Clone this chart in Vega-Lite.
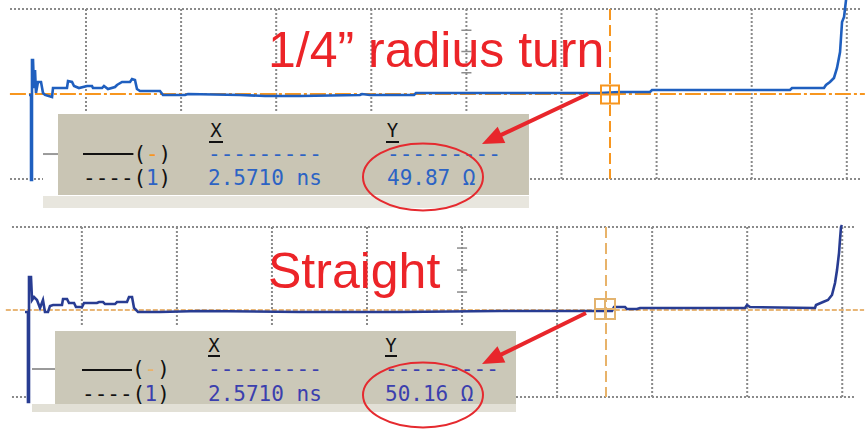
{
  "$schema": "https://vega.github.io/schema/vega-lite/v6.json",
  "background": "white",
  "padding": 0,
  "spacing": 0,
  "bounds": "flush",
  "config": {"view": {"stroke": null}},
  "datasets": {
    "ticks": [{"t":0.2},{"t":0.4},{"t":0.6},{"t":0.8},{"t":1.0},{"t":1.2},{"t":1.4},{"t":1.6},{"t":1.8},{"t":2.0},{"t":2.2},{"t":2.4},{"t":2.6},{"t":2.8},{"t":3.0},{"t":3.2},{"t":3.4},{"t":3.6},{"t":3.8},{"t":4.0},{"t":4.2},{"t":4.4},{"t":4.6},{"t":4.8},{"t":5.0},{"t":5.2},{"t":5.4},{"t":5.6},{"t":5.8},{"t":6.0},{"t":6.2},{"t":6.4},{"t":6.6},{"t":6.8},{"t":7.0},{"t":7.2},{"t":7.4},{"t":7.6},{"t":7.8},{"t":8.0},{"t":8.2},{"t":8.4},{"t":8.6},{"t":8.8},{"t":9.0}],
    "top_trace": [
      {"t":0.401,"z":49.91},{"t":0.422,"z":49.91},{"t":0.422,"z":41.91},{"t":0.432,"z":41.91},{"t":0.432,"z":53.20},{"t":0.443,"z":53.20},{"t":0.453,"z":50.56},{"t":0.464,"z":52.26},{"t":0.474,"z":50.09},{"t":0.495,"z":51.13},{"t":0.527,"z":51.13},{"t":0.548,"z":50.09},{"t":0.569,"z":49.91},{"t":0.643,"z":49.72},{"t":0.653,"z":50.56},{"t":0.800,"z":50.56},{"t":0.811,"z":51.22},{"t":0.853,"z":51.13},{"t":0.874,"z":50.75},{"t":0.926,"z":50.56},{"t":1.011,"z":50.75},{"t":1.063,"z":50.75},{"t":1.074,"z":50.56},{"t":1.168,"z":50.56},{"t":1.189,"z":50.75},{"t":1.231,"z":50.47},{"t":1.305,"z":50.66},{"t":1.326,"z":50.85},{"t":1.379,"z":51.13},{"t":1.463,"z":51.13},{"t":1.484,"z":51.41},{"t":1.515,"z":51.32},{"t":1.536,"z":50.47},{"t":1.568,"z":50.28},{"t":1.778,"z":50.28},{"t":1.810,"z":49.91},{"t":2.041,"z":49.91},{"t":2.073,"z":50.00},{"t":2.619,"z":49.91},{"t":2.882,"z":49.81},{"t":3.250,"z":49.81},{"t":3.881,"z":49.91},{"t":3.902,"z":50.00},{"t":3.986,"z":49.91},{"t":4.449,"z":49.91},{"t":4.470,"z":50.09},{"t":6.405,"z":50.09},{"t":6.615,"z":50.19},{"t":6.931,"z":50.19},{"t":6.952,"z":50.38},{"t":8.403,"z":50.38},{"t":8.424,"z":50.56},{"t":8.760,"z":50.56},{"t":8.781,"z":50.85},{"t":8.823,"z":51.13},{"t":8.865,"z":51.51},{"t":8.897,"z":52.45},{"t":8.929,"z":53.95},{"t":8.950,"z":56.78},{"t":8.971,"z":57.25},{"t":8.981,"z":58.00},{"t":8.992,"z":58.85}
    ],
    "bot_trace": [
      {"t":0.402,"z":49.81},{"t":0.433,"z":49.81},{"t":0.433,"z":41.34},{"t":0.444,"z":41.34},{"t":0.444,"z":53.11},{"t":0.465,"z":53.11},{"t":0.476,"z":50.94},{"t":0.497,"z":51.22},{"t":0.528,"z":50.94},{"t":0.560,"z":50.19},{"t":0.591,"z":50.94},{"t":0.612,"z":49.81},{"t":0.644,"z":49.81},{"t":0.665,"z":50.38},{"t":0.697,"z":50.47},{"t":0.791,"z":50.47},{"t":0.802,"z":51.04},{"t":0.844,"z":51.04},{"t":0.865,"z":50.66},{"t":0.918,"z":50.66},{"t":0.938,"z":50.28},{"t":1.002,"z":50.28},{"t":1.023,"z":50.66},{"t":1.159,"z":50.66},{"t":1.181,"z":50.75},{"t":1.223,"z":50.75},{"t":1.244,"z":50.56},{"t":1.349,"z":50.56},{"t":1.370,"z":50.75},{"t":1.475,"z":50.75},{"t":1.496,"z":51.22},{"t":1.528,"z":51.22},{"t":1.549,"z":50.19},{"t":1.591,"z":49.81},{"t":1.822,"z":49.81},{"t":2.243,"z":49.91},{"t":3.295,"z":49.81},{"t":4.347,"z":49.81},{"t":5.399,"z":49.91},{"t":6.578,"z":49.91},{"t":6.599,"z":50.28},{"t":6.715,"z":50.28},{"t":6.736,"z":50.09},{"t":6.841,"z":50.09},{"t":6.872,"z":50.19},{"t":7.977,"z":50.19},{"t":7.998,"z":50.47},{"t":8.030,"z":50.28},{"t":8.713,"z":50.19},{"t":8.724,"z":50.47},{"t":8.798,"z":50.75},{"t":8.850,"z":50.94},{"t":8.892,"z":51.41},{"t":8.924,"z":52.54},{"t":8.945,"z":53.76},{"t":8.966,"z":55.36},{"t":8.976,"z":56.59},{"t":8.987,"z":57.81},{"t":8.997,"z":58.00}
    ],
    "top_ann": [
      {"kind":"vgrid","t":1,"z":58,"z2":42},{"kind":"vgrid","t":2,"z":58,"z2":42},{"kind":"vgrid","t":3,"z":58,"z2":42},{"kind":"vgrid","t":4,"z":58,"z2":42},{"kind":"vgrid","t":5,"z":58,"z2":42},{"kind":"vgrid","t":6,"z":58,"z2":42},{"kind":"vgrid","t":7,"z":58,"z2":42},{"kind":"vgrid","t":8,"z":58,"z2":42},{"kind":"vgrid","t":9,"z":58,"z2":42},
      {"kind":"hgrid","t":0.2009,"t2":9.1388,"z":58},{"kind":"hgrid","t":0.2009,"t2":9.1388,"z":42},
      {"kind":"vtick","t":4.947,"t2":5.053,"z":56.0},{"kind":"vtick","t":4.947,"t2":5.053,"z":54.0},{"kind":"vtick","t":4.947,"t2":5.053,"z":52.0},{"kind":"vtick","t":4.947,"t2":5.053,"z":48.0},{"kind":"vtick","t":4.947,"t2":5.053,"z":46.0},{"kind":"vtick","t":4.947,"t2":5.053,"z":44.0},
      {"kind":"curh","t":0.2,"t2":9.19,"z":50},
      {"kind":"curv","t":6.51,"z":58,"z2":42},
      {"kind":"cursq","t":6.51,"z":49.95},
      {"kind":"white","t":0.5478,"t2":5.658,"z":48.40,"z2":39.27},
      {"kind":"box","t":0.7056,"t2":5.658,"z":48.12,"z2":40.49},
      {"kind":"strip","t":0.5478,"t2":5.658,"z":40.40,"z2":39.27},
      {"kind":"gline","t":0.5478,"t2":0.7056,"z":44.35},
      {"kind":"solid","t":0.9685,"t2":1.4984,"z":44.35},
      {"kind":"ul","t":2.2934,"t2":2.4406,"z":45.48},{"kind":"ul","t":4.1546,"t2":4.2913,"z":45.48},
      {"kind":"hdr","t":2.367,"z":46.52,"text":"X"},{"kind":"hdr","t":4.2229,"z":46.52,"text":"Y"},
      {"kind":"blk","t":1.4984,"z":44.259,"text":"("},{"kind":"blk","t":1.7634,"z":44.259,"text":")"},
      {"kind":"blk","t":0.9685,"z":42.0,"text":"----("},{"kind":"blk","t":1.7634,"z":42.0,"text":")"},
      {"kind":"orn","t":1.6309,"z":44.259,"text":"-"},
      {"kind":"blu","t":1.6309,"z":42.0,"text":"1"},
      {"kind":"blu","t":2.2829,"z":44.259,"text":"---------"},{"kind":"blu","t":4.1651,"z":44.259,"text":"---------"},
      {"kind":"blu","t":2.2829,"z":42.0,"text":"2.5710 ns"},{"kind":"blu","t":4.1651,"z":42.0,"text":"49.87 Ω"},
      {"kind":"title","t":2.914,"z":52.54,"text":"1/4” radius turn"},
      {"kind":"ell","t":4.5436,"z":42.19},
      {"kind":"arrow","t":6.2787,"z":50.0,"t2":5.2776,"z2":45.774},
      {"kind":"head","t":5.2776,"z":45.774}
    ],
    "bot_ann": [
      {"kind":"vgrid","t":1,"z":57.81,"z2":41.81},{"kind":"vgrid","t":2,"z":57.81,"z2":41.81},{"kind":"vgrid","t":3,"z":57.81,"z2":41.81},{"kind":"vgrid","t":4,"z":57.81,"z2":41.81},{"kind":"vgrid","t":5,"z":57.81,"z2":41.81},{"kind":"vgrid","t":6,"z":57.81,"z2":41.81},{"kind":"vgrid","t":7,"z":57.81,"z2":41.81},{"kind":"vgrid","t":8,"z":57.81,"z2":41.81},{"kind":"vgrid","t":9,"z":57.81,"z2":41.81},
      {"kind":"hgrid","t":0.265,"t2":9.134,"z":57.81},{"kind":"hgrid","t":0.265,"t2":9.134,"z":41.81},
      {"kind":"vtick","t":4.947,"t2":5.053,"z":55.83},{"kind":"vtick","t":4.947,"t2":5.053,"z":53.76},{"kind":"vtick","t":4.947,"t2":5.053,"z":51.69},{"kind":"vtick","t":4.947,"t2":5.053,"z":48.2},{"kind":"vtick","t":4.947,"t2":5.053,"z":46.1},{"kind":"vtick","t":4.947,"t2":5.053,"z":44.0},
      {"kind":"curh","t":0.2,"t2":9.23,"z":50},
      {"kind":"curv","t":6.5145,"z":57.81,"z2":41.81},
      {"kind":"cursq","t":6.504,"z":50.09},
      {"kind":"white","t":0.4755,"t2":5.5676,"z":48.40,"z2":40.31},
      {"kind":"box","t":0.7176,"t2":5.5676,"z":48.02,"z2":41.15},
      {"kind":"strip","t":0.4755,"t2":5.5676,"z":41.15,"z2":40.40},
      {"kind":"gline","t":0.4755,"t2":0.7176,"z":44.447},
      {"kind":"solid","t":1.0016,"t2":1.5276,"z":44.353},
      {"kind":"ul","t":2.3272,"t2":2.4535,"z":45.67},{"kind":"ul","t":4.1894,"t2":4.3157,"z":45.67},
      {"kind":"hdr","t":2.3903,"z":46.62,"text":"X"},{"kind":"hdr","t":4.2525,"z":46.62,"text":"Y"},
      {"kind":"blk","t":1.5276,"z":44.353,"text":"("},{"kind":"blk","t":1.7927,"z":44.353,"text":")"},
      {"kind":"blk","t":1.0016,"z":42.0,"text":"----("},{"kind":"blk","t":1.7927,"z":42.0,"text":")"},
      {"kind":"orn","t":1.6602,"z":44.353,"text":"-"},
      {"kind":"blu","t":1.6602,"z":42.0,"text":"1"},
      {"kind":"blu","t":2.3272,"z":44.353,"text":"---------"},{"kind":"blu","t":4.1894,"z":44.353,"text":"---------"},
      {"kind":"blu","t":2.3272,"z":42.0,"text":"2.5710 ns"},{"kind":"blu","t":4.1894,"z":42.0,"text":"50.16 Ω"},
      {"kind":"title","t":2.9584,"z":52.07,"text":"Straight"},
      {"kind":"ell","t":4.5892,"z":42.0},
      {"kind":"arrow","t":6.304,"z":49.72,"t2":5.3235,"z2":45.42},
      {"kind":"head","t":5.3235,"z":45.42}
    ]
  },
  "vconcat": [
    {
      "width": 865,
      "height": 214,
      "encoding": {
        "x": {"field": "t", "type": "quantitative", "scale": {"domain": [0.0957, 9.1914], "nice": false, "zero": false}, "axis": null},
        "y": {"field": "z", "type": "quantitative", "scale": {"domain": [38.706, 58.847], "nice": false, "zero": false}, "axis": null}
      },
      "layer": [
        {"data": {"name": "top_ann"}, "transform": [{"filter": "datum.kind==='vgrid'"}], "mark": {"type": "rule", "color": "#8a8a8a", "strokeWidth": 2, "strokeDash": [2, 2]}, "encoding": {"y2": {"field": "z2"}}},
        {"data": {"name": "top_ann"}, "transform": [{"filter": "datum.kind==='hgrid'"}], "mark": {"type": "rule", "color": "#8a8a8a", "strokeWidth": 2, "strokeDash": [2, 2]}, "encoding": {"x2": {"field": "t2"}}},
        {"data": {"name": "ticks"}, "mark": {"type": "rule", "color": "#8c8c8c", "strokeWidth": 1.5}, "encoding": {"y": {"datum": 50.38}, "y2": {"datum": 49.62}}},
        {"data": {"name": "top_ann"}, "transform": [{"filter": "datum.kind==='vtick'"}], "mark": {"type": "rule", "color": "#8c8c8c", "strokeWidth": 1.5}, "encoding": {"x2": {"field": "t2"}}},
        {"data": {"name": "top_ann"}, "transform": [{"filter": "datum.kind==='curh'"}], "mark": {"type": "rule", "color": "#f7961f", "strokeWidth": 2, "strokeDash": [16, 3, 3, 3]}, "encoding": {"x2": {"field": "t2"}}},
        {"data": {"name": "top_trace"}, "mark": {"type": "line", "color": "#1f5fbf", "strokeWidth": 2.6, "clip": true}, "encoding": {"order": {"value": null}}},
        {"data": {"name": "top_ann"}, "transform": [{"filter": "datum.kind==='curv'"}], "mark": {"type": "rule", "color": "#f7961f", "strokeWidth": 2, "strokeDash": [11, 5]}, "encoding": {"y2": {"field": "z2"}}},
        {"data": {"name": "top_ann"}, "transform": [{"filter": "datum.kind==='cursq'"}], "mark": {"type": "point", "shape": "M-1,-1H1V1H-1ZM0,-1V1M-1,0H1", "size": 324, "filled": false, "stroke": "#f7961f", "strokeWidth": 2, "opacity": 1}},
        {"data": {"name": "top_ann"}, "transform": [{"filter": "datum.kind==='white'"}], "mark": {"type": "rect", "color": "#ffffff"}, "encoding": {"x2": {"field": "t2"}, "y2": {"field": "z2"}}},
        {"data": {"name": "top_ann"}, "transform": [{"filter": "datum.kind==='box'"}], "mark": {"type": "rect", "color": "#c9c5b4"}, "encoding": {"x2": {"field": "t2"}, "y2": {"field": "z2"}}},
        {"data": {"name": "top_ann"}, "transform": [{"filter": "datum.kind==='strip'"}], "mark": {"type": "rect", "color": "#e8e6de"}, "encoding": {"x2": {"field": "t2"}, "y2": {"field": "z2"}}},
        {"data": {"name": "top_ann"}, "transform": [{"filter": "datum.kind==='gline'"}], "mark": {"type": "rule", "color": "#9a9a9a", "strokeWidth": 2}, "encoding": {"x2": {"field": "t2"}}},
        {"data": {"name": "top_ann"}, "transform": [{"filter": "datum.kind==='solid'"}], "mark": {"type": "rule", "color": "#111111", "strokeWidth": 2}, "encoding": {"x2": {"field": "t2"}}},
        {"data": {"name": "top_ann"}, "transform": [{"filter": "datum.kind==='ul'"}], "mark": {"type": "rule", "color": "#111111", "strokeWidth": 2}, "encoding": {"x2": {"field": "t2"}}},
        {"data": {"name": "top_ann"}, "transform": [{"filter": "datum.kind==='hdr'"}], "mark": {"type": "text", "font": "DejaVu Sans Mono", "fontSize": 19, "color": "#111111", "align": "center", "baseline": "middle"}, "encoding": {"text": {"field": "text"}}},
        {"data": {"name": "top_ann"}, "transform": [{"filter": "datum.kind==='blk'"}], "mark": {"type": "text", "font": "DejaVu Sans Mono", "fontSize": 21, "color": "#111111", "align": "left", "baseline": "middle"}, "encoding": {"text": {"field": "text"}}},
        {"data": {"name": "top_ann"}, "transform": [{"filter": "datum.kind==='orn'"}], "mark": {"type": "text", "font": "DejaVu Sans Mono", "fontSize": 21, "color": "#f7961f", "align": "left", "baseline": "middle"}, "encoding": {"text": {"field": "text"}}},
        {"data": {"name": "top_ann"}, "transform": [{"filter": "datum.kind==='blu'"}], "mark": {"type": "text", "font": "DejaVu Sans Mono", "fontSize": 21, "color": "#2c63c4", "align": "left", "baseline": "middle"}, "encoding": {"text": {"field": "text"}}},
        {"data": {"name": "top_ann"}, "transform": [{"filter": "datum.kind==='title'"}], "mark": {"type": "text", "font": "Liberation Sans", "fontSize": 50, "color": "#ec2428", "align": "left", "baseline": "alphabetic"}, "encoding": {"text": {"field": "text"}}},
        {"data": {"name": "top_ann"}, "transform": [{"filter": "datum.kind==='ell'"}], "mark": {"type": "point", "shape": "M-1,0A1,0.56,0,1,1,1,0A1,0.56,0,1,1,-1,0Z", "size": 14400, "filled": false, "stroke": "#e52a2f", "strokeWidth": 2, "opacity": 1}},
        {"data": {"name": "top_ann"}, "transform": [{"filter": "datum.kind==='arrow'"}], "mark": {"type": "rule", "color": "#e8262b", "strokeWidth": 4}, "encoding": {"x2": {"field": "t2"}, "y2": {"field": "z2"}}},
        {"data": {"name": "top_ann"}, "transform": [{"filter": "datum.kind==='head'"}], "mark": {"type": "point", "shape": "M0,-1L0.75,0.8L-0.75,0.8Z", "size": 576, "filled": true, "color": "#e8262b", "opacity": 1, "angle": 244.7}}
      ]
    },
    {
      "width": 865,
      "height": 215,
      "encoding": {
        "x": {"field": "t", "type": "quantitative", "scale": {"domain": [0.1389, 9.2394], "nice": false, "zero": false}, "axis": null},
        "y": {"field": "z", "type": "quantitative", "scale": {"domain": [38.8, 59.035], "nice": false, "zero": false}, "axis": null}
      },
      "layer": [
        {"data": {"name": "bot_ann"}, "transform": [{"filter": "datum.kind==='vgrid'"}], "mark": {"type": "rule", "color": "#8a8a8a", "strokeWidth": 2, "strokeDash": [2, 2]}, "encoding": {"y2": {"field": "z2"}}},
        {"data": {"name": "bot_ann"}, "transform": [{"filter": "datum.kind==='hgrid'"}], "mark": {"type": "rule", "color": "#8a8a8a", "strokeWidth": 2, "strokeDash": [2, 2]}, "encoding": {"x2": {"field": "t2"}}},
        {"data": {"name": "ticks"}, "mark": {"type": "rule", "color": "#8c8c8c", "strokeWidth": 1.5}, "encoding": {"y": {"datum": 50.38}, "y2": {"datum": 49.62}}},
        {"data": {"name": "bot_ann"}, "transform": [{"filter": "datum.kind==='vtick'"}], "mark": {"type": "rule", "color": "#8c8c8c", "strokeWidth": 1.5}, "encoding": {"x2": {"field": "t2"}}},
        {"data": {"name": "bot_ann"}, "transform": [{"filter": "datum.kind==='curh'"}], "mark": {"type": "rule", "color": "#e8b677", "strokeWidth": 2, "strokeDash": [5, 2]}, "encoding": {"x2": {"field": "t2"}}},
        {"data": {"name": "bot_trace"}, "mark": {"type": "line", "color": "#283c92", "strokeWidth": 2.6, "clip": true}, "encoding": {"order": {"value": null}}},
        {"data": {"name": "bot_ann"}, "transform": [{"filter": "datum.kind==='curv'"}], "mark": {"type": "rule", "color": "#e8b36a", "strokeWidth": 2, "strokeDash": [11, 5]}, "encoding": {"y2": {"field": "z2"}}},
        {"data": {"name": "bot_ann"}, "transform": [{"filter": "datum.kind==='cursq'"}], "mark": {"type": "point", "shape": "M-1,-1H1V1H-1ZM0,-1V1M-1,0H1", "size": 400, "filled": false, "stroke": "#e3b36e", "strokeWidth": 2, "opacity": 1}},
        {"data": {"name": "bot_ann"}, "transform": [{"filter": "datum.kind==='white'"}], "mark": {"type": "rect", "color": "#ffffff"}, "encoding": {"x2": {"field": "t2"}, "y2": {"field": "z2"}}},
        {"data": {"name": "bot_ann"}, "transform": [{"filter": "datum.kind==='box'"}], "mark": {"type": "rect", "color": "#cbc8b8"}, "encoding": {"x2": {"field": "t2"}, "y2": {"field": "z2"}}},
        {"data": {"name": "bot_ann"}, "transform": [{"filter": "datum.kind==='strip'"}], "mark": {"type": "rect", "color": "#e2e0d6"}, "encoding": {"x2": {"field": "t2"}, "y2": {"field": "z2"}}},
        {"data": {"name": "bot_ann"}, "transform": [{"filter": "datum.kind==='gline'"}], "mark": {"type": "rule", "color": "#9a9a9a", "strokeWidth": 2}, "encoding": {"x2": {"field": "t2"}}},
        {"data": {"name": "bot_ann"}, "transform": [{"filter": "datum.kind==='solid'"}], "mark": {"type": "rule", "color": "#111111", "strokeWidth": 2}, "encoding": {"x2": {"field": "t2"}}},
        {"data": {"name": "bot_ann"}, "transform": [{"filter": "datum.kind==='ul'"}], "mark": {"type": "rule", "color": "#111111", "strokeWidth": 2}, "encoding": {"x2": {"field": "t2"}}},
        {"data": {"name": "bot_ann"}, "transform": [{"filter": "datum.kind==='hdr'"}], "mark": {"type": "text", "font": "DejaVu Sans Mono", "fontSize": 19, "color": "#111111", "align": "center", "baseline": "middle"}, "encoding": {"text": {"field": "text"}}},
        {"data": {"name": "bot_ann"}, "transform": [{"filter": "datum.kind==='blk'"}], "mark": {"type": "text", "font": "DejaVu Sans Mono", "fontSize": 21, "color": "#111111", "align": "left", "baseline": "middle"}, "encoding": {"text": {"field": "text"}}},
        {"data": {"name": "bot_ann"}, "transform": [{"filter": "datum.kind==='orn'"}], "mark": {"type": "text", "font": "DejaVu Sans Mono", "fontSize": 21, "color": "#e8b36a", "align": "left", "baseline": "middle"}, "encoding": {"text": {"field": "text"}}},
        {"data": {"name": "bot_ann"}, "transform": [{"filter": "datum.kind==='blu'"}], "mark": {"type": "text", "font": "DejaVu Sans Mono", "fontSize": 21, "color": "#3b3fae", "align": "left", "baseline": "middle"}, "encoding": {"text": {"field": "text"}}},
        {"data": {"name": "bot_ann"}, "transform": [{"filter": "datum.kind==='title'"}], "mark": {"type": "text", "font": "Liberation Sans", "fontSize": 50, "color": "#ec2428", "align": "left", "baseline": "alphabetic"}, "encoding": {"text": {"field": "text"}}},
        {"data": {"name": "bot_ann"}, "transform": [{"filter": "datum.kind==='ell'"}], "mark": {"type": "point", "shape": "M-1,0A1,0.54,0,1,1,1,0A1,0.54,0,1,1,-1,0Z", "size": 14400, "filled": false, "stroke": "#e52a2f", "strokeWidth": 2, "opacity": 1}},
        {"data": {"name": "bot_ann"}, "transform": [{"filter": "datum.kind==='arrow'"}], "mark": {"type": "rule", "color": "#e8262b", "strokeWidth": 4}, "encoding": {"x2": {"field": "t2"}, "y2": {"field": "z2"}}},
        {"data": {"name": "bot_ann"}, "transform": [{"filter": "datum.kind==='head'"}], "mark": {"type": "point", "shape": "M0,-1L0.75,0.8L-0.75,0.8Z", "size": 576, "filled": true, "color": "#e8262b", "opacity": 1, "angle": 243.9}}
      ]
    }
  ]
}
